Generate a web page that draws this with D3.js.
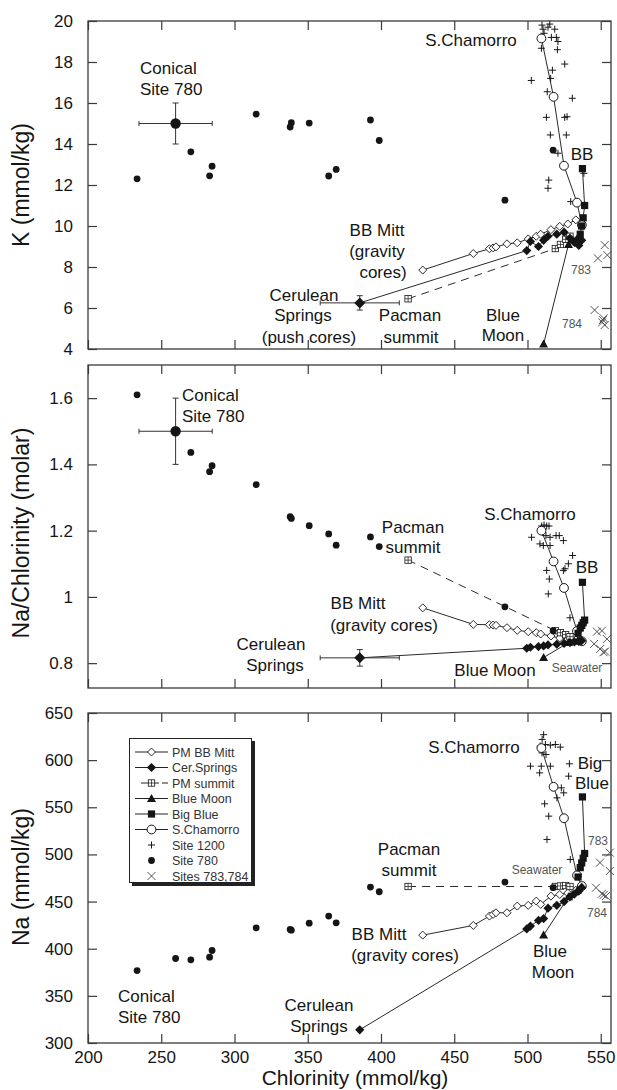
<!DOCTYPE html>
<html>
<head>
<meta charset="utf-8">
<script src="https://cdn.jsdelivr.net/npm/d3@7"></script>
<style>
  body { margin: 0; background: #fff; }
  svg text { font-family: "Liberation Sans", Arial, sans-serif; fill: #151515; }
</style>
</head>
<body>
<div id="chart"></div>
<script>
// ---- data (chlorinity in mmol/kg) ----
// Site 780 (Conical seamount) - index 1 is the mean with error bars in K and Na/Cl panels
var cl780 = [233.5, 259.8, 270.2, 283, 284.7, 314.8, 338, 338.8, 351, 364.3, 369.4, 392.8, 398.8, 484.6, 517.5];
var k780  = [12.3, 15.0, 13.62, 12.45, 12.92, 15.46, 14.83, 15.04, 15.02, 12.44, 12.76, 15.17, 14.17, 11.26, 13.7];
var r780  = [1.61, 1.5, 1.436, 1.378, 1.396, 1.339, 1.242, 1.237, 1.215, 1.19, 1.156, 1.181, 1.152, 0.97, 0.898];
var na780 = [376.8, 389.6, 388.2, 391, 398.1, 422.2, 420.4, 419.7, 427.1, 434.6, 427.5, 465.4, 460.4, 470.7, 464.7];

// PM BB Mitt (gravity cores)
var clMitt = [428.5, 463, 474, 476.5, 478.5, 486, 493, 500.5, 506, 509, 516, 522, 527.5, 533];
var kMitt  = [7.85, 8.66, 8.89, 8.93, 8.98, 9.13, 9.18, 9.37, 9.5, 9.6, 9.82, 9.98, 10.1, 10.3];
var rMitt  = [0.967, 0.917, 0.916, 0.915, 0.914, 0.907, 0.899, 0.895, 0.892, 0.888, 0.882, 0.876, 0.872, 0.87];
var naMitt = [414.4, 424.7, 434.6, 436.4, 438.1, 438.1, 445.2, 446, 450.5, 447, 455.8, 457.5, 459, 462];

// Cerulean Springs (push cores) - index 0 has error bars
var clCer = [385.5, 499.5, 502, 507.5, 511, 514, 520, 525, 529, 532, 535, 537];
var kCer  = [6.25, 8.8, 9.25, 9.0, 9.3, 9.5, 9.6, 9.7, 9.4, 9.2, 9.05, 9.3];
var rCer  = [0.816, 0.845, 0.848, 0.85, 0.852, 0.855, 0.857, 0.86, 0.862, 0.864, 0.866, 0.868];
var naCer = [314, 421, 424, 430, 432, 443, 446, 450, 455, 458, 461, 465];

// Pacman summit
var clPac = [418.5, 519, 522.5, 526, 529];
var kPac  = [6.45, 8.9, 9.1, 9.35, 9.5];
var rPac  = [1.111, 0.898, 0.892, 0.886, 0.88];
var naPac = [466, 466, 466.5, 467, 466];

// Blue Moon
var clBM = [511, 528, 534];
var kBM  = [4.25, 9.1, 9.4];
var rBM  = [0.817, 0.862, 0.866];
var naBM = [414.5, 455, 462];

// Big Blue
var clBB = [537.5, 539, 538, 537, 536, 534.5];
var kBB  = [12.8, 11.0, 10.4, 10.0, 9.6, 9.3];
var rBB  = [1.044, 0.93, 0.922, 0.914, 0.906, 0.89];
var naBB = [561, 501, 496, 491, 486, 476];

// South Chamorro
var clSC = [509.5, 517.8, 524.9, 533.8, 537.1];
var kSC  = [19.15, 16.3, 12.94, 11.14, 10.05];
var rSC  = [1.2, 1.107, 1.027, 0.897, 0.866];
var naSC = [612.8, 571.7, 538.4, 477.8, 466.5];

// Site 1200 (one list per panel)
var cl1200K = [509.9, 510.6, 511.3, 509.5, 514, 516.3, 515.2, 518.6, 519.7, 520.4, 520.8, 525.4, 517, 515.8, 502.6, 513.5, 530.6, 512.9, 525.4, 527, 515.6, 526.5, 520.8, 514.5, 514, 529.5, 538.5];
var k1200   = [19.8, 19.6, 19.4, 18.67, 19.7, 19.2, 19.85, 19.6, 19.2, 18.6, 19.0, 17.9, 17.6, 17.2, 17.1, 16.55, 16.23, 15.3, 15.3, 15.33, 14.44, 14.44, 13.55, 12.24, 11.84, 11.19, 12.57];
var cl1200R = [509.7, 511.3, 513.1, 514.7, 510.3, 512.6, 515.4, 519.5, 521.7, 524.5, 502.8, 508.5, 510.8, 515.4, 530.8, 527.9, 525.6, 524.5, 513.1, 514.9, 514.2, 529];
var r1200   = [1.214, 1.217, 1.214, 1.214, 1.195, 1.185, 1.18, 1.185, 1.185, 1.17, 1.18, 1.16, 1.155, 1.155, 1.125, 1.1, 1.085, 1.08, 1.08, 1.054, 1.009, 0.937];
var cl1200N = [508.7, 512.2, 515.6, 519, 522.4, 509.9, 512.6, 502, 509.4, 515.6, 508.3, 528.6, 528.1, 523.1, 524.7, 520.1, 511.7, 514.5, 513.3, 529.2, 511, 510];
var na1200  = [614.8, 616.6, 615.9, 616.6, 613.8, 607.7, 606, 593.6, 593.6, 593.6, 586.5, 596.1, 583, 570.6, 565.3, 560, 553.7, 540.6, 515.9, 494.7, 627, 622];

// Sites 783, 784
var cl783K = [552.7, 548.1, 554.5, 545.8, 551.5, 552.7, 551, 552];
var k783   = [9.07, 8.42, 8.58, 5.9, 5.41, 5.17, 5.3, 5.5];
var cl783R = [547.4, 550.8, 554.2, 545.5, 549.6, 551.9, 553];
var r783   = [0.895, 0.898, 0.873, 0.858, 0.843, 0.833, 0.835];
var cl783N = [556.2, 549.5, 556.2, 546.8, 550.8, 553.5, 552];
var na783  = [501.9, 491.3, 482.4, 464.7, 458.3, 455.8, 457];

var xTicks = [200, 250, 300, 350, 400, 450, 500, 550];
var kTicks = [4, 6, 8, 10, 12, 14, 16, 18, 20];
var rTicks = [0.8, 1, 1.2, 1.4, 1.6];
var naTicks = [300, 350, 400, 450, 500, 550, 600, 650];

var legendNames = ["PM BB Mitt", "Cer.Springs", "PM summit", "Blue Moon", "Big Blue", "S.Chamorro", "Site 1200", "Site 780", "Sites 783,784"];

// ---- layout ----
var W = 617, H = 1090;
var svg = d3.select("#chart").append("svg").attr("width", W).attr("height", H);

var x = d3.scaleLinear().domain([200, 557]).range([88, 611]);

var panels = [
  { y: d3.scaleLinear().domain([4, 20]).range([349, 21]), ticks: kTicks, title: "K (mmol/kg)", tY: 185,
    site780: k780, mitt: kMitt, cer: kCer, pac: kPac, bm: kBM, bb: kBB, sc: kSC,
    cl1200: cl1200K, v1200: k1200, cl783: cl783K, v783: k783,
    err780: 1.0, errCer: 0.35, bigMarks: true },
  { y: d3.scaleLinear().domain([0.725, 1.7]).range([688, 365]), ticks: rTicks, title: "Na/Chlorinity (molar)", tY: 533,
    site780: r780, mitt: rMitt, cer: rCer, pac: rPac, bm: rBM, bb: rBB, sc: rSC,
    cl1200: cl1200R, v1200: r1200, cl783: cl783R, v783: r783,
    err780: 0.1, errCer: 0.025, bigMarks: true },
  { y: d3.scaleLinear().domain([300, 650]).range([1043, 713]), ticks: naTicks, title: "Na (mmol/kg)", tY: 877,
    site780: na780, mitt: naMitt, cer: naCer, pac: naPac, bm: naBM, bb: naBB, sc: naSC,
    cl1200: cl1200N, v1200: na1200, cl783: cl783N, v783: na783,
    bigMarks: false }
];

var ink = "#151515";

// marker painter
function mark(g, type, cx, cy, big) {
  var s;
  if (type == "odiamond") {
    s = 4;
    g.append("path").attr("d", "M" + cx + "," + (cy - s) + "L" + (cx + s) + "," + cy + "L" + cx + "," + (cy + s) + "L" + (cx - s) + "," + cy + "Z")
      .attr("fill", "#fff").attr("stroke", ink).attr("stroke-width", 0.9);
  } else if (type == "fdiamond") {
    s = big ? 5.5 : 4.6;
    g.append("path").attr("d", "M" + cx + "," + (cy - s) + "L" + (cx + s) + "," + cy + "L" + cx + "," + (cy + s) + "L" + (cx - s) + "," + cy + "Z")
      .attr("fill", ink);
  } else if (type == "boxplus") {
    g.append("rect").attr("x", cx - 3.2).attr("y", cy - 3.2).attr("width", 6.4).attr("height", 6.4)
      .attr("fill", "#fff").attr("stroke", ink).attr("stroke-width", 0.8);
    g.append("path").attr("d", "M" + (cx - 3.2) + "," + cy + "H" + (cx + 3.2) + "M" + cx + "," + (cy - 3.2) + "V" + (cy + 3.2))
      .attr("stroke", ink).attr("stroke-width", 0.7);
  } else if (type == "triangle") {
    g.append("path").attr("d", "M" + cx + "," + (cy - 4.5) + "L" + (cx + 4.5) + "," + (cy + 3.5) + "L" + (cx - 4.5) + "," + (cy + 3.5) + "Z")
      .attr("fill", ink);
  } else if (type == "square") {
    g.append("rect").attr("x", cx - 3.6).attr("y", cy - 3.6).attr("width", 7.2).attr("height", 7.2).attr("fill", ink);
  } else if (type == "ocircle") {
    g.append("circle").attr("cx", cx).attr("cy", cy).attr("r", 4.4)
      .attr("fill", "#fff").attr("stroke", ink).attr("stroke-width", 1);
  } else if (type == "plus") {
    g.append("path").attr("d", "M" + (cx - 3.5) + "," + cy + "H" + (cx + 3.5) + "M" + cx + "," + (cy - 3.5) + "V" + (cy + 3.5))
      .attr("stroke", ink).attr("stroke-width", 1);
  } else if (type == "dot") {
    g.append("circle").attr("cx", cx).attr("cy", cy).attr("r", big ? 5.2 : 3.4).attr("fill", ink);
  } else if (type == "x") {
    g.append("path").attr("d", "M" + (cx - 4) + "," + (cy - 4) + "L" + (cx + 4) + "," + (cy + 4) + "M" + (cx - 4) + "," + (cy + 4) + "L" + (cx + 4) + "," + (cy - 4))
      .attr("stroke", "#444").attr("stroke-width", 0.9);
  }
}

function errorBar(g, cx, cy, x0, x1, y0, y1) {
  var p = "M" + x0 + "," + cy + "H" + x1 +
          "M" + x0 + "," + (cy - 2.5) + "V" + (cy + 2.5) +
          "M" + x1 + "," + (cy - 2.5) + "V" + (cy + 2.5) +
          "M" + cx + "," + y0 + "V" + y1 +
          "M" + (cx - 3) + "," + y0 + "H" + (cx + 3) +
          "M" + (cx - 3) + "," + y1 + "H" + (cx + 3);
  g.append("path").attr("d", p).attr("stroke", "#333").attr("stroke-width", 1).attr("fill", "none");
}

function zip(a, b) { return a.map(function (d, i) { return [d, b[i]]; }); }

panels.forEach(function (p, pi) {
  var y = p.y;
  var g = svg.append("g");
  var r0 = y.range();

  // frame
  g.append("rect").attr("x", x.range()[0]).attr("y", r0[1])
    .attr("width", x.range()[1] - x.range()[0]).attr("height", r0[0] - r0[1])
    .attr("fill", "none").attr("stroke", "#3a3a3a").attr("stroke-width", 1.3);

  // axes with inward ticks
  var left = g.append("g").attr("transform", "translate(" + x.range()[0] + ",0)")
    .call(d3.axisLeft(y).tickValues(p.ticks).tickSize(-9).tickPadding(15).tickFormat(function (d) { return String(d); }));
  var right = g.append("g").attr("transform", "translate(" + x.range()[1] + ",0)")
    .call(d3.axisRight(y).tickValues(p.ticks).tickSize(-9).tickFormat(""));
  var top = g.append("g").attr("transform", "translate(0," + r0[1] + ")")
    .call(d3.axisTop(x).tickValues(xTicks).tickSize(-9).tickFormat(""));
  var bottom = g.append("g").attr("transform", "translate(0," + r0[0] + ")")
    .call(d3.axisBottom(x).tickValues(xTicks).tickSize(-9).tickPadding(8)
      .tickFormat(pi == 2 ? function (d) { return d; } : ""));
  [left, right, top, bottom].forEach(function (a) {
    a.select(".domain").remove();
    a.selectAll(".tick line").attr("stroke", "#3a3a3a").attr("stroke-width", 1.2);
    a.selectAll(".tick text").attr("font-size", 17).attr("fill", "#1a1a1a")
      .attr("font-family", "'Liberation Sans', Arial, sans-serif");
  });

  // axis title
  g.append("text").attr("transform", "translate(29," + p.tY + ") rotate(-90)")
    .attr("text-anchor", "middle").attr("font-size", 23).text(p.title);

  var line = d3.line().x(function (d) { return x(d[0]); }).y(function (d) { return y(d[1]); });
  var lineG = g.append("g").attr("fill", "none").attr("stroke", "#2a2a2a").attr("stroke-width", 1);

  lineG.append("path").attr("d", line(zip(clMitt, p.mitt)));
  lineG.append("path").attr("d", line(zip(clCer, p.cer)));
  lineG.append("path").attr("d", line(zip(clPac, p.pac))).attr("stroke-dasharray", "8,6");
  lineG.append("path").attr("d", line(zip(clBM, p.bm)));
  lineG.append("path").attr("d", line(zip(clBB, p.bb)));
  lineG.append("path").attr("d", line(zip(clSC, p.sc)));

  // error bars
  if (p.bigMarks) {
    errorBar(g, x(cl780[1]), y(p.site780[1]), x(cl780[1] - 25), x(cl780[1] + 25),
      y(p.site780[1] + p.err780), y(p.site780[1] - p.err780));
    errorBar(g, x(clCer[0]), y(p.cer[0]), x(clCer[0] - 27), x(clCer[0] + 27),
      y(p.cer[0] + p.errCer), y(p.cer[0] - p.errCer));
  }

  var mg = g.append("g");
  p.cl783.forEach(function (c, i) { mark(mg, "x", x(c), y(p.v783[i])); });
  p.cl1200.forEach(function (c, i) { mark(mg, "plus", x(c), y(p.v1200[i])); });
  clMitt.forEach(function (c, i) { mark(mg, "odiamond", x(c), y(p.mitt[i])); });
  clPac.forEach(function (c, i) { mark(mg, "boxplus", x(c), y(p.pac[i])); });
  clSC.forEach(function (c, i) { mark(mg, "ocircle", x(c), y(p.sc[i])); });
  clCer.forEach(function (c, i) { mark(mg, "fdiamond", x(c), y(p.cer[i]), i == 0 && p.bigMarks); });
  clBM.forEach(function (c, i) { mark(mg, "triangle", x(c), y(p.bm[i])); });
  clBB.forEach(function (c, i) { mark(mg, "square", x(c), y(p.bb[i])); });
  cl780.forEach(function (c, i) { mark(mg, "dot", x(c), y(p.site780[i]), i == 1 && p.bigMarks); });
});

// ---- annotations (pixel layout) ----
var labels = [
  // top panel
  ["S.Chamorro", 471, 46, "middle", 17], ["Conical", 140, 74, "start", 17], ["Site 780", 140, 95, "start", 17],
  ["BB", 582, 160, "middle", 17], ["BB Mitt", 377, 236, "middle", 17], ["(gravity", 377, 257, "middle", 17],
  ["cores)", 383, 278, "middle", 17], ["Cerulean", 304, 301, "middle", 17], ["Springs", 303, 321, "middle", 17],
  ["(push cores)", 309, 343, "middle", 17], ["Pacman", 410, 321, "middle", 17], ["summit", 411, 343, "middle", 17],
  ["Blue", 503, 321, "middle", 17], ["Moon", 503, 341, "middle", 17],
  ["783", 581, 274, "middle", 12, "#555"], ["784", 572, 328, "middle", 12, "#555"],
  // middle panel
  ["Conical", 182, 401, "start", 17], ["Site 780", 182, 422, "start", 17], ["S.Chamorro", 530, 520, "middle", 17],
  ["Pacman", 413, 533, "middle", 17], ["summit", 413, 553, "middle", 17], ["BB", 587, 573, "middle", 17],
  ["BB Mitt", 358, 609, "middle", 17], ["(gravity cores)", 384, 631, "middle", 17],
  ["Cerulean", 271, 650, "middle", 17], ["Springs", 275, 671, "middle", 17], ["Blue Moon", 495, 676, "middle", 17],
  ["Seawater", 577, 672, "middle", 12, "#555"],
  // bottom panel
  ["S.Chamorro", 474, 753, "middle", 17], ["Big", 590, 769, "middle", 17], ["Blue", 592, 789, "middle", 17],
  ["Pacman", 409, 855, "middle", 17], ["summit", 409, 876, "middle", 17],
  ["BB Mitt", 379, 940, "middle", 17], ["(gravity cores)", 405, 961, "middle", 17],
  ["Blue", 550, 957, "middle", 17], ["Moon", 553, 978, "middle", 17],
  ["Conical", 118, 1002, "start", 17], ["Site 780", 118, 1023, "start", 17],
  ["Cerulean", 319, 1011, "middle", 17], ["Springs", 319, 1032, "middle", 17],
  ["Seawater", 537, 874, "middle", 12, "#555"], ["783", 598, 845, "middle", 12, "#555"], ["784", 597, 917, "middle", 12, "#555"]
];
svg.append("g").selectAll("text").data(labels).enter().append("text")
  .attr("x", function (d) { return d[1]; }).attr("y", function (d) { return d[2]; })
  .attr("text-anchor", function (d) { return d[3]; })
  .attr("font-size", function (d) { return d[4]; })
  .style("fill", function (d) { return d[5] || "#151515"; })
  .text(function (d) { return d[0]; });

// x title
svg.append("text").attr("x", 355).attr("y", 1085).attr("text-anchor", "middle")
  .attr("font-size", 21).text("Chlorinity (mmol/kg)");

// ---- legend ----
var lg = svg.append("g");
lg.append("rect").attr("x", 132).attr("y", 741).attr("width", 123).attr("height", 145).attr("fill", "#222");
lg.append("rect").attr("x", 129.5).attr("y", 738.5).attr("width", 122).attr("height", 144)
  .attr("fill", "#fff").attr("stroke", "#222").attr("stroke-width", 1);
var legendTypes = ["odiamond", "fdiamond", "boxplus", "triangle", "square", "ocircle", "plus", "dot", "x"];
legendNames.forEach(function (name, i) {
  var yy = 752 + i * 15.5;
  if (i < 6) {
    var ln = lg.append("path").attr("d", "M135," + yy + "H168").attr("stroke", "#222").attr("stroke-width", 1);
    if (i == 2) { ln.attr("d", "M141," + yy + "H168").attr("stroke-dasharray", "10,3,5,3"); }
  }
  mark(lg, legendTypes[i], 151.5, yy);
  lg.append("text").attr("x", 172).attr("y", yy + 4.5).attr("font-size", 12.5).style("fill", "#333").text(name);
});
</script>
</body>
</html>
